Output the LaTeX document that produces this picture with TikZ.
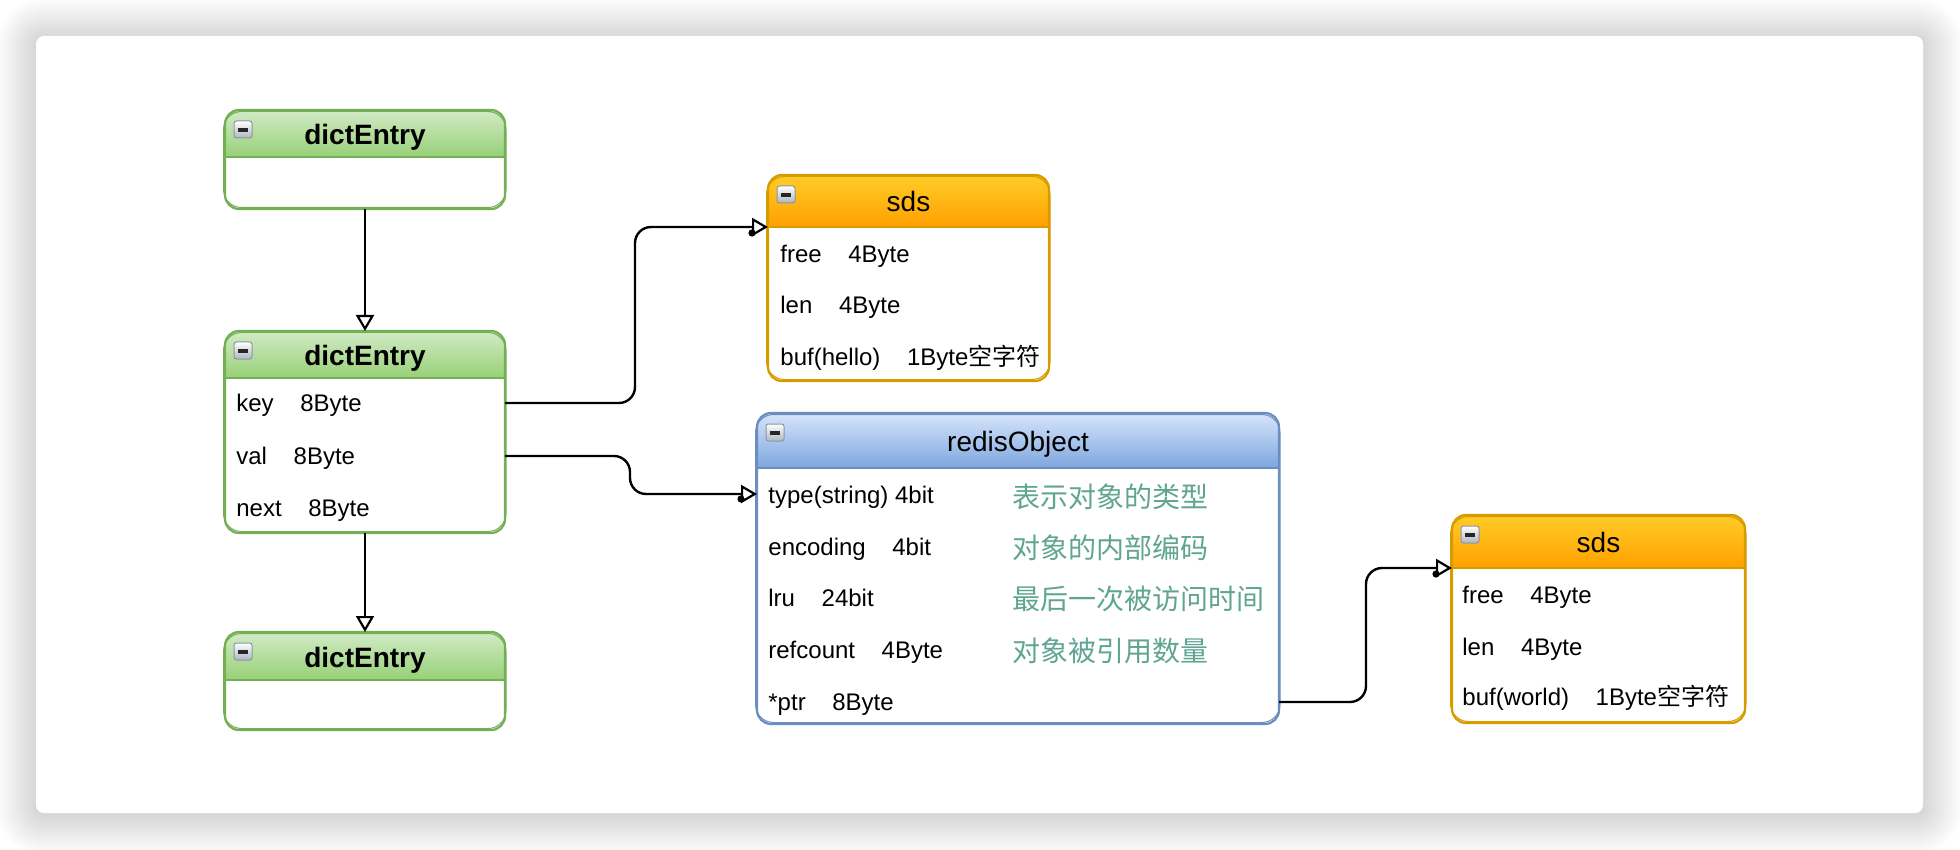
\documentclass[tikz,border=0pt]{standalone}
\usepackage{fontspec}
\setmainfont{Liberation Sans}
\newfontfamily\cjk{Noto Sans CJK SC}
\usetikzlibrary{arrows.meta}
\definecolor{gT}{HTML}{D2EBC6}\definecolor{gB}{HTML}{97D077}\definecolor{gS}{HTML}{73B055}
\definecolor{oT}{HTML}{FFCD28}\definecolor{oB}{HTML}{FFA000}\definecolor{oS}{HTML}{D79B00}
\definecolor{bT}{HTML}{D6E5FA}\definecolor{bB}{HTML}{7EA6E0}\definecolor{bS}{HTML}{6C8EBF}
\definecolor{notegreen}{HTML}{5FA591}
\definecolor{iconB}{HTML}{8A96A6}
\newcommand\gapp{\hspace{13.3pt}}
\newcommand\dtable[8]{%
  \pgfmathsetmacro\bw{(#4-#2)*0.5}%
  \pgfmathsetmacro\bh{(#5-#3)*0.5}%
  \node[boxnode, minimum width=\bw pt, minimum height=\bh pt] (#1) at (#2,#3) {};
  \begin{scope}
    \clip[rounded corners=7pt] (#2,#3) rectangle (#4,#5);
    \shade[top color=#7T, bottom color=#7B] (#2,#3) rectangle (#4,#6);
  \end{scope}
  \draw[draw=#7S, line width=1.1pt, rounded corners=7pt] (#2,#3) rectangle (#4,#5);
  \draw[draw=#7S, line width=0.5pt, rounded corners=9pt] ({#2-1.5},{#3+1.5}) rectangle ({#4+1},{#5-1.5});
  \draw[draw=#7S, line width=1.1pt] (#2,#6) -- (#4,#6);
  \coordinate (#1-hl) at (#2,#6);
  \shade[top color=white, bottom color=iconB!70, draw=iconB, line width=0.5pt, rounded corners=1.2pt] ({#2+9},{#3+11}) rectangle ({#2+27},{#3+28});
  \fill[black!85] ({#2+13},{#3+18}) rectangle ({#2+23},{#3+22});
  \node[hdrtxt] (#1-t) at ({(#2+#4)/2},{(#3+#6)/2+11}) {#8};
}
\tikzset{
  boxnode/.style={rectangle, anchor=north west, inner sep=0pt, outer sep=0pt, fill=white, rounded corners=7pt},
  rowtxt/.style={anchor=base west, inner sep=0pt, font=\fontsize{12}{14}\selectfont},
  hdrtxt/.style={anchor=base, inner sep=0pt, font=\fontsize{14}{16}\selectfont},
  cnote/.style={anchor=base west, inner sep=0pt, font=\cjk\fontsize{14}{16}\selectfont, text=notegreen},
  conn/.style={line width=1.2pt, rounded corners=8pt, -{Triangle[open,length=8pt,width=9pt,line width=1.1pt]}},
  enddot/.style={fill=black}
}
\begin{document}
\begin{tikzpicture}[x=0.5pt,y=-0.5pt]
\fill[white] (0,0) rectangle (1960,850);
\useasboundingbox (0,0) rectangle (1960,850);
% card shadow
\foreach \i in {1,...,40} {
  \pgfmathsetmacro\rr{4+0.5*\i}
  \fill[black, opacity=0.0042, rounded corners=\rr pt] ({36-\i},{36-\i+2}) rectangle ({1923+\i},{813+\i+2});
}
\fill[white, rounded corners=4pt] (36,36) rectangle (1923,813);

% tables
\dtable{de1}{225}{110}{505}{209}{157}{g}{\textbf{dictEntry}}
\dtable{de2}{225}{331}{505}{533}{378}{g}{\textbf{dictEntry}}
\dtable{de3}{225}{632}{505}{730}{680}{g}{\textbf{dictEntry}}
\dtable{sdsa}{768}{175}{1049}{381}{227}{o}{sds}
\dtable{ro}{757}{413}{1279}{724}{468}{b}{redisObject}
\dtable{sdsb}{1452}{515}{1745}{723}{568}{o}{sds}

% rows
\node[rowtxt] (de2k) at (236,411) {key\gapp 8Byte};
\node[rowtxt] (de2v) at (236,464) {val\gapp 8Byte};
\node[rowtxt] (de2n) at (236,516) {next\gapp 8Byte};

\node[rowtxt] (sdsaf) at (780,263) {free\gapp 4Byte};
\node[rowtxt] (sdsal) at (780,314) {len\gapp 4Byte};
\node[rowtxt] (sdsab) at (780,365) {buf(hello)\gapp 1Byte{\cjk 空字符}};

\node[rowtxt] (rot) at (768,503) {type(string) 4bit};
\node[rowtxt] (roe) at (768,555) {encoding\gapp 4bit};
\node[rowtxt] (rol) at (768,606) {lru\gapp 24bit};
\node[rowtxt] (ror) at (768,658) {refcount\gapp 4Byte};
\node[rowtxt] (rop) at (768,710) {*ptr\gapp 8Byte};

\node[cnote] (rotn) at (1012,507) {表示对象的类型};
\node[cnote] (roen) at (1012,558) {对象的内部编码};
\node[cnote] (roln) at (1012,609) {最后一次被访问时间};
\node[cnote] (rorn) at (1012,661) {对象被引用数量};

\node[rowtxt] (sdsbf) at (1462,603) {free\gapp 4Byte};
\node[rowtxt] (sdsbl) at (1462,655) {len\gapp 4Byte};
\node[rowtxt] (sdsbb) at (1462,705) {buf(world)\gapp 1Byte{\cjk 空字符}};

% connectors
\draw[conn] (de1.south) -- (de2.north);
\draw[conn] (de2.south) -- (de3.north);
\coordinate (k0) at (de2.east |- 0,403);
\coordinate (v0) at (de2.east |- 0,456);
\coordinate (p0) at (ro.east |- 0,702);
\coordinate (roin) at (ro.west |- 0,494);
\draw[conn] (k0) -- ++(130,0) |- (sdsa-hl);
\draw[conn] (v0) -- ++(125,0) |- (roin);
\draw[conn] (p0) -- ++(87,0) |- (sdsb-hl);
\fill[enddot] ([shift={(-16,6)}]sdsa-hl) circle (1.8pt);
\fill[enddot] ([shift={(-16,5)}]roin) circle (1.8pt);
\fill[enddot] ([shift={(-16,6)}]sdsb-hl) circle (1.8pt);
\end{tikzpicture}
\end{document}
